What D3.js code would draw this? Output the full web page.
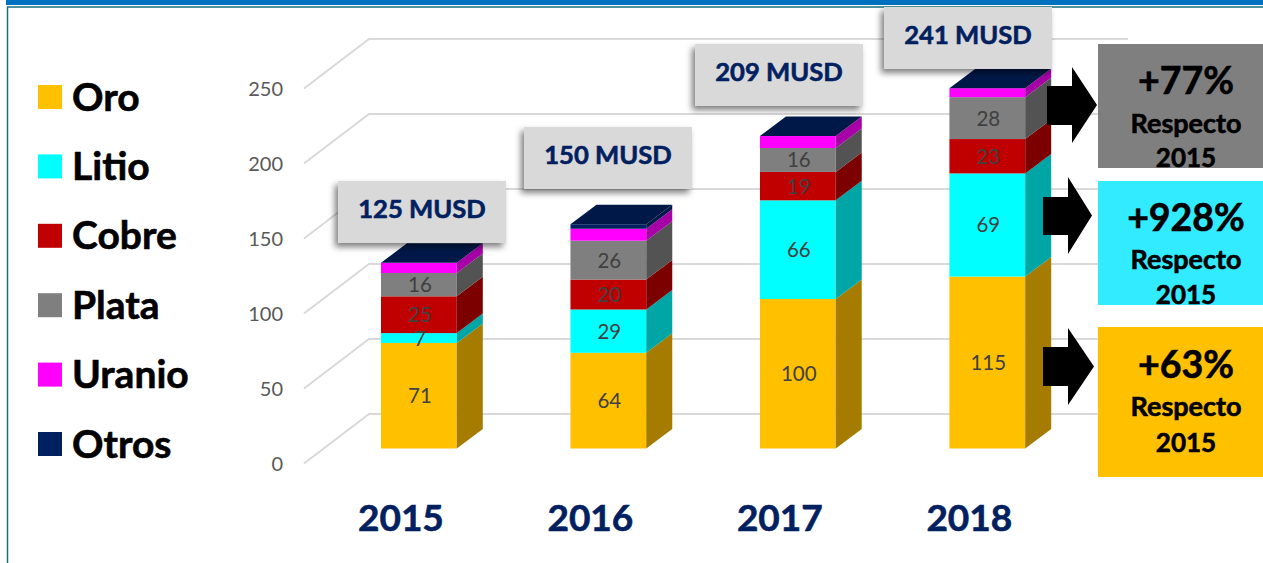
<!DOCTYPE html>
<html lang="es">
<head>
<meta charset="utf-8">
<title>Exportaciones mineras</title>
<script src="https://cdn.jsdelivr.net/npm/d3@7"></script>
<style>
html,body{margin:0;padding:0;background:#fff;overflow:hidden}
svg{display:block;font-family:Lato,"Open Sans",sans-serif}
</style>
</head>
<body>
<svg id="chart" width="1263" height="563"></svg>
<script>
const years = ["2015","2016","2017","2018"];
const seriesNames = ["Oro","Litio","Cobre","Plata","Uranio","Otros"];
const oro    = [70.6, 64, 100, 115];
const litio  = [6.6, 29, 66, 69];
const cobre  = [24.6, 20, 19, 23];
const plata  = [15.6, 26, 16, 28];
const uranio = [6.8, 8, 8, 6];
const otros  = [0, 3, 0, 0];
const totals = ["125 MUSD","150 MUSD","209 MUSD","241 MUSD"];
const yTicks = [0,50,100,150,200,250];
const frontColors = ["#ffc000","#00ffff","#c00000","#7f7f7f","#ff00ff","#002060"];
const sideColors  = ["#a67c00","#00a6a6","#7c0000","#535353","#a600a6","#001848"];
const topColor = "#001848";
const labelled = ["Oro","Litio","Cobre","Plata"];
const callouts = [
  {label:"+77%",  fill:"#7f7f7f", y:44,  h:124, b:[94,133,167]},
  {label:"+928%", fill:"#33ebff", y:181, h:124, b:[231,269,304]},
  {label:"+63%",  fill:"#ffc000", y:327, h:150, b:[378,416,452]}
];
const arrows = [
  {x0:1047, xh:1072, xt:1097, s0:86,  s1:125, h0:67,  h1:143},
  {x0:1043, xh:1068, xt:1092, s0:197, s1:235, h0:177, h1:254},
  {x0:1043, xh:1068, xt:1094, s0:347, s1:386, h0:328, h1:405}
];
const totalBoxes = [[338,181],[524,127],[695,44],[884,7]];

const table = years.map((y,i)=>({year:y,Oro:oro[i],Litio:litio[i],Cobre:cobre[i],Plata:plata[i],Uranio:uranio[i],Otros:otros[i]}));
const stacked = d3.stack().keys(seriesNames)(table);

const svg = d3.select("#chart");
const defs = svg.append("defs");
const sh = defs.append("filter").attr("id","shadow").attr("x","-10%").attr("y","-20%").attr("width","125%").attr("height","150%");
sh.append("feDropShadow").attr("dx",-3).attr("dy",4).attr("stdDeviation",3).attr("flood-color","#000").attr("flood-opacity",.5);

const x = d3.scaleBand().domain(years).range([381,1025.2]).paddingInner(.6).paddingOuter(0);
const y = d3.scaleLinear().domain([0,250]).range([448.5,74.75]);
const yBack = d3.scaleLinear().domain([0,250]).range([414,39]);
const gridX = {front:304, back:369, end:1128}, gridDrop = 49.5;
const dx = 26, dy = 19.5;

const bold = sel => sel.attr("font-weight",700).attr("stroke-width",.6).attr("stroke",function(){return this.getAttribute("fill");});

// frame
svg.append("rect").attr("x",6).attr("y",0).attr("width",1257).attr("height",5).attr("fill","#0070c0");
svg.append("path").attr("d","M7.5,563V7H1263").attr("fill","none").attr("stroke","#1a6f7c").attr("stroke-width",1.5);

// grid
svg.append("g").selectAll("path").data(yTicks).join("path")
  .attr("d",t=>d3.line()([[gridX.front,yBack(t)+gridDrop],[gridX.back,yBack(t)],[gridX.end,yBack(t)]]))
  .attr("fill","none").attr("stroke","#d9d9d9").attr("stroke-width",2);
svg.append("g").selectAll("text").data(yTicks).join("text")
  .attr("x",283).attr("y",t=>yBack(t)+gridDrop+7).attr("text-anchor","end")
  .attr("font-size",20).attr("fill","#595959").text(d=>d);

// bars
const barG = svg.append("g");
years.forEach((yr,i)=>{
  const g = barG.append("g");
  const X0 = x(yr), X1 = X0 + x.bandwidth();
  stacked.forEach((s,k)=>{
    const [a,b] = s[i];
    if (b-a<=0) return;
    g.append("rect").attr("x",X0).attr("y",y(b)).attr("width",x.bandwidth()).attr("height",y(a)-y(b)).attr("fill",frontColors[k]);
    g.append("polygon").attr("points",[[X1,y(a)],[X1+dx,y(a)-dy],[X1+dx,y(b)-dy],[X1,y(b)]].join(" ")).attr("fill",sideColors[k]);
  });
  const top = d3.max(stacked,s=>s[i][1]);
  g.append("polygon").attr("points",[[X0,y(top)],[X0+dx,y(top)-dy],[X1+dx,y(top)-dy],[X1,y(top)]].join(" ")).attr("fill",topColor);
  stacked.forEach(s=>{
    if(!labelled.includes(s.key)) return;
    const [a,b] = s[i];
    g.append("text").attr("x",(X0+X1)/2+1).attr("y",(y(a)+y(b))/2+7.5).attr("text-anchor","middle")
      .attr("font-size",20.5).attr("fill","#404040").text(Math.round(b-a));
  });
});

// x labels
svg.append("g").selectAll("text").data(years).join("text")
  .attr("x",d=>x(d)+x.bandwidth()/2-18).attr("y",531).attr("text-anchor","middle")
  .attr("font-size",37).attr("fill","#002060").call(bold).text(d=>d);

// legend
const leg = svg.append("g").selectAll("g").data(seriesNames).join("g")
  .attr("transform",(d,i)=>`translate(38,${85+i*69.4})`);
leg.append("rect").attr("width",24).attr("height",24).attr("fill",(d,i)=>frontColors[i]);
leg.append("text").attr("x",34).attr("y",25.5).attr("font-size",39).attr("fill","#000").call(bold).text(d=>d);

// total boxes
const tb = svg.append("g").selectAll("g").data(totals).join("g")
  .attr("transform",(d,i)=>`translate(${totalBoxes[i][0]},${totalBoxes[i][1]})`);
tb.append("rect").attr("width",168).attr("height",62).attr("fill","#d9d9d9").attr("filter","url(#shadow)");
tb.append("text").attr("x",84).attr("y",37).attr("text-anchor","middle")
  .attr("font-size",25.6).attr("fill","#002060").call(bold).text(d=>d);

// arrows
svg.append("g").selectAll("polygon").data(arrows).join("polygon")
  .attr("points",a=>[[a.x0,a.s0],[a.xh,a.s0],[a.xh,a.h0],[a.xt,(a.h0+a.h1)/2],[a.xh,a.h1],[a.xh,a.s1],[a.x0,a.s1]].join(" "))
  .attr("fill","#000");

// change callouts
const cg = svg.append("g").selectAll("g").data(callouts).join("g");
cg.append("rect").attr("x",1098).attr("y",d=>d.y).attr("width",165).attr("height",d=>d.h).attr("fill",d=>d.fill);
const cx = 1186;
cg.append("text").attr("x",cx).attr("y",d=>d.b[0]).attr("text-anchor","middle").attr("font-size",37.5).attr("fill","#000").call(bold).text(d=>d.label);
cg.append("text").attr("x",cx).attr("y",d=>d.b[1]).attr("text-anchor","middle").attr("font-size",27).attr("fill","#000").call(bold).text("Respecto");
cg.append("text").attr("x",cx).attr("y",d=>d.b[2]).attr("text-anchor","middle").attr("font-size",26).attr("fill","#000").call(bold).text("2015");
</script>
</body>
</html>
